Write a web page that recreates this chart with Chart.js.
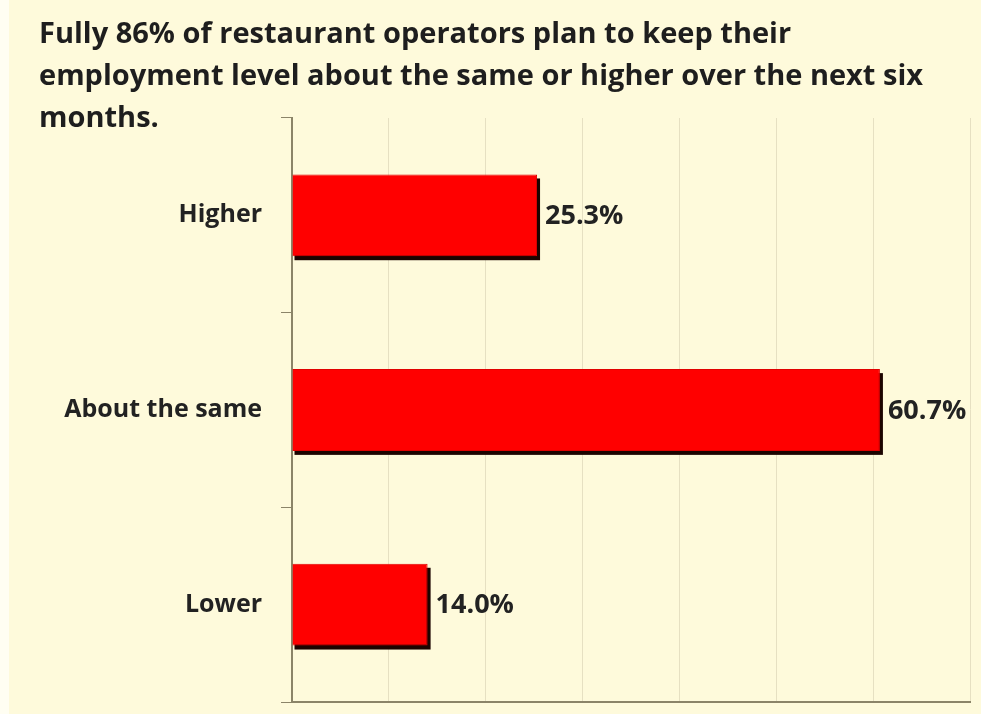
<!DOCTYPE html>
<html>
<head>
<meta charset="utf-8">
<script src="https://cdn.jsdelivr.net/npm/chart.js@4.4.0/dist/chart.umd.min.js"></script>
<style>
  html, body { margin: 0; padding: 0; background: #fefadb; }
  #wrap { position: relative; width: 981px; height: 714px; }
  #title {
    position: absolute; left: 39px; top: 11px; width: 940px;
    font-family: "Open Sans", "Liberation Sans", sans-serif; font-weight: bold;
    font-size: 29px; line-height: 42px; color: #1e1e1e;
  }
  canvas { position: absolute; left: 0; top: 0; }
</style>
</head>
<body>
<div id="wrap">
  <canvas id="chart" width="981" height="714"></canvas>
  <div id="title">Fully 86% of restaurant operators plan to keep their<br>employment level about the same or higher over the next six<br>months.</div>
</div>
<script>
const categories = ["Higher", "About the same", "Lower"];
const shares = [25.3, 60.7, 14.0];

const AXIS = '#8b8468';
const FONT = '"Open Sans", "Liberation Sans", sans-serif';

// cream background, with a paler strip down the left edge
const background = {
  id: 'background',
  beforeDraw(chart) {
    const c = chart.ctx;
    c.save();
    c.fillStyle = '#fefadb';
    c.fillRect(0, 0, chart.width, chart.height);
    c.fillStyle = '#fffef2';
    c.fillRect(0, 0, 9, chart.height);
    c.restore();
  }
};

// dark block offset under each bar
const barShadow = {
  id: 'barShadow',
  beforeDatasetsDraw(chart) {
    const c = chart.ctx;
    c.save();
    c.fillStyle = '#1c0400';
    chart.getDatasetMeta(0).data.forEach(bar => {
      const p = bar.getProps(['x', 'y', 'base', 'height'], true);
      const top = p.y - p.height / 2;
      c.fillRect(p.base + 2, top + 4, p.x - p.base + 1, p.height);
    });
    c.restore();
  }
};

// percentage text to the right of each bar
const valueLabels = {
  id: 'valueLabels',
  afterDatasetsDraw(chart) {
    const c = chart.ctx;
    const meta = chart.getDatasetMeta(0);
    c.save();
    c.font = 'bold 27px ' + FONT;
    c.fillStyle = '#222';
    c.textBaseline = 'middle';
    c.textAlign = 'left';
    meta.data.forEach((bar, i) => {
      c.fillText(shares[i].toFixed(1) + '%', bar.x + 8, bar.y + 1);
    });
    c.restore();
  }
};

new Chart(document.getElementById('chart'), {
  type: 'bar',
  data: {
    labels: categories,
    datasets: [{
      data: shares,
      backgroundColor: '#ff0000',
      borderColor: '#e00000',
      borderWidth: 1,
      barPercentage: 0.42,
      categoryPercentage: 1
    }]
  },
  options: {
    indexAxis: 'y',
    responsive: false,
    animation: false,
    layout: { padding: { top: 118, right: 11, bottom: 12, left: 0 } },
    plugins: {
      legend: { display: false },
      tooltip: { enabled: false }
    },
    scales: {
      x: {
        min: 0,
        max: 70,
        afterFit(scale) { scale.height = 0; },
        ticks: { stepSize: 10, display: false },
        grid: { color: '#e6e0c2', lineWidth: 1, tickLength: 0, tickColor: AXIS },
        border: { color: AXIS, width: 2 }
      },
      y: {
        afterFit(scale) {
          scale.width = 292;
          scale.paddingTop = 0;
          scale.paddingBottom = 0;
        },
        ticks: {
          padding: 19,
          color: '#222',
          font: { family: FONT, weight: 'bold', size: 25 }
        },
        grid: { drawOnChartArea: false, tickLength: 11, color: AXIS, lineWidth: 1 },
        border: { color: AXIS, width: 2 }
      }
    }
  },
  plugins: [background, barShadow, valueLabels]
});
</script>
</body>
</html>
